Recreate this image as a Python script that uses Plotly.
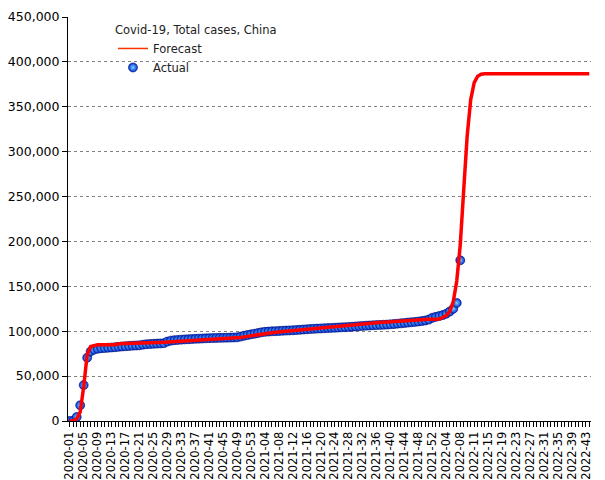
import plotly.graph_objects as go

# Week categories (x axis): 2020-01..2020-53, 2021-01..2021-52, 2022 weeks as labelled
weeks = ([f"2020-{w:02d}" for w in range(1, 54)] +
         [f"2021-{w:02d}" for w in range(1, 53)] +
         ["2022-01", "2022-02", "2022-03", "2022-04", "2022-05", "2022-06", "2022-07", "2022-08",
          "2022-09", "2022-10", "2022-10", "2022-11"] +
         [f"2022-{w:02d}" for w in range(12, 45)])

tick_labels = ["2020-01", "2020-05", "2020-09", "2020-13", "2020-17", "2020-21", "2020-25",
               "2020-29", "2020-33", "2020-37", "2020-41", "2020-45", "2020-49", "2020-53",
               "2021-04", "2021-08", "2021-12", "2021-16", "2021-20", "2021-24", "2021-28",
               "2021-32", "2021-36", "2021-40", "2021-44", "2021-48", "2021-52",
               "2022-04", "2022-08", "2022-11", "2022-15", "2022-19", "2022-23", "2022-27",
               "2022-31", "2022-35", "2022-39", "2022-43"]

actual = [
    0, 200, 4500, 17500, 40000, 70500, 77500, 79500, 80500, 81000,
    81300, 81600, 81900, 82200, 82600, 83000, 83300, 83600, 83900, 84100,
    84300, 85000, 85500, 85800, 86000, 86200, 86400, 86700, 88500, 89500,
    90000, 90300, 90600, 90900, 91100, 91300, 91500, 91700, 91900, 92100,
    92300, 92400, 92500, 92600, 92700, 92800, 92900, 93000, 93200, 94000,
    95000, 95800, 96500, 97200, 98000, 98800, 99300, 99600, 99900, 100100,
    100300, 100500, 100700, 100900, 101100, 101300, 101600, 101900, 102200, 102500,
    102700, 102900, 103100, 103300, 103500, 103700, 103900, 104100, 104300, 104500,
    104700, 105000, 105300, 105600, 105900, 106200, 106400, 106600, 106800, 107000,
    107200, 107400, 107700, 108000, 108400, 108800, 109200, 109600, 110000, 110400,
    110800, 111300, 112000, 113000, 115000, 116000, 117000, 118000, 119500, 122000,
    125000, 131500, 179000]

forecast = [
    0, 500, 2500, 10000, 38000, 74000, 83000, 84500, 85000, 85000,
    85000, 85000, 85000, 85000, 86000, 86200, 86400, 86500, 86600, 86700,
    86800, 86900, 87000, 87100, 87200, 87300, 87400, 87600, 88000, 88400,
    88700, 89000, 89200, 89400, 89600, 89800, 90000, 90200, 90400, 90600,
    90800, 91000, 91200, 91400, 91600, 91800, 92000, 92200, 92500, 93000,
    93700, 94400, 95100, 95800, 96500, 97100, 97600, 98000, 98400, 98800,
    99200, 99600, 100000, 100400, 100800, 101200, 101600, 102000, 102400, 102800,
    103200, 103600, 104000, 104400, 104800, 105200, 105600, 106000, 106400, 106800,
    107100, 107400, 107700, 108000, 108300, 108600, 108900, 109200, 109500, 109800,
    110100, 110400, 110700, 111000, 111300, 111600, 111900, 112200, 112500, 112700,
    112900, 113000, 113100, 113200, 113300, 113400, 113600, 115500, 117500, 122000,
    133000, 156000, 196000, 258000, 318000, 358000, 377000, 384000, 386200, 386700,
    386700, 386700, 386700, 386700, 386700, 386700, 386700, 386700, 386700, 386700,
    386700, 386700, 386700, 386700, 386700, 386700, 386700, 386700, 386700, 386700,
    386700, 386700, 386700, 386700, 386700, 386700, 386700, 386700, 386700, 386700]

x_actual = list(range(len(actual)))
x_forecast = list(range(len(forecast)))
tick_pos = list(range(0, len(tick_labels) * 4, 4))

fig = go.Figure()
fig.add_trace(go.Scatter(
    x=x_actual, y=actual, mode="markers", name="Actual", legendrank=2,
    marker=dict(symbol="circle", size=9, color="#0030d8",
                gradient=dict(type="radial", color="#7fd8ff"),
                line=dict(width=0.6, color="#000a70")),
))
fig.add_trace(go.Scatter(
    x=x_forecast, y=forecast, mode="lines", name="Forecast", showlegend=False,
    line=dict(color="#ff0000", width=3.5),
))
# legend-only entry with the thin orange-red key line used in the original legend
fig.add_trace(go.Scatter(
    x=[None], y=[None], mode="lines", name="Forecast", legendrank=1,
    line=dict(color="#ff3300", width=1.5),
))

# The page body has an 8px margin, so the figure is sized/offset to compensate.
fig.update_layout(
    width=597, height=472,
    margin=dict(l=60, r=14, t=9, b=59, autoexpand=False),
    paper_bgcolor="white", plot_bgcolor="white",
    font=dict(family="DejaVu Sans", size=12, color="black"),
    showlegend=True,
    legend=dict(
        title=dict(text="Covid-19, Total cases, China", font=dict(size=11.5, color="#222")),
        font=dict(size=11.5, color="#222"),
        x=0.086, y=0.995, xanchor="left", yanchor="top",
        bgcolor="rgba(0,0,0,0)", borderwidth=0, itemwidth=30,
        tracegroupgap=2,
    ),
)
fig.update_xaxes(
    range=[-0.5, 149.5], tickmode="array", tickvals=tick_pos, ticktext=tick_labels,
    tickangle=-90, ticks="outside", ticklen=5, tickcolor="black",
    minor=dict(dtick=1, tick0=0, ticks="outside", ticklen=5, tickcolor="black", showgrid=False),
    showline=True, linecolor="black", linewidth=1, showgrid=False, zeroline=False,
    tickfont=dict(size=11.5, color="black"), automargin=False,
)
fig.update_yaxes(
    range=[0, 450000], dtick=50000, tickformat=",",
    ticks="outside", ticklen=5, tickcolor="black",
    showline=True, linecolor="black", linewidth=1,
    showgrid=True, gridcolor="#808080", griddash="dot", gridwidth=1,
    zeroline=False, tickfont=dict(size=12.5, color="black"), automargin=False,
)

fig.write_html("out.html")
